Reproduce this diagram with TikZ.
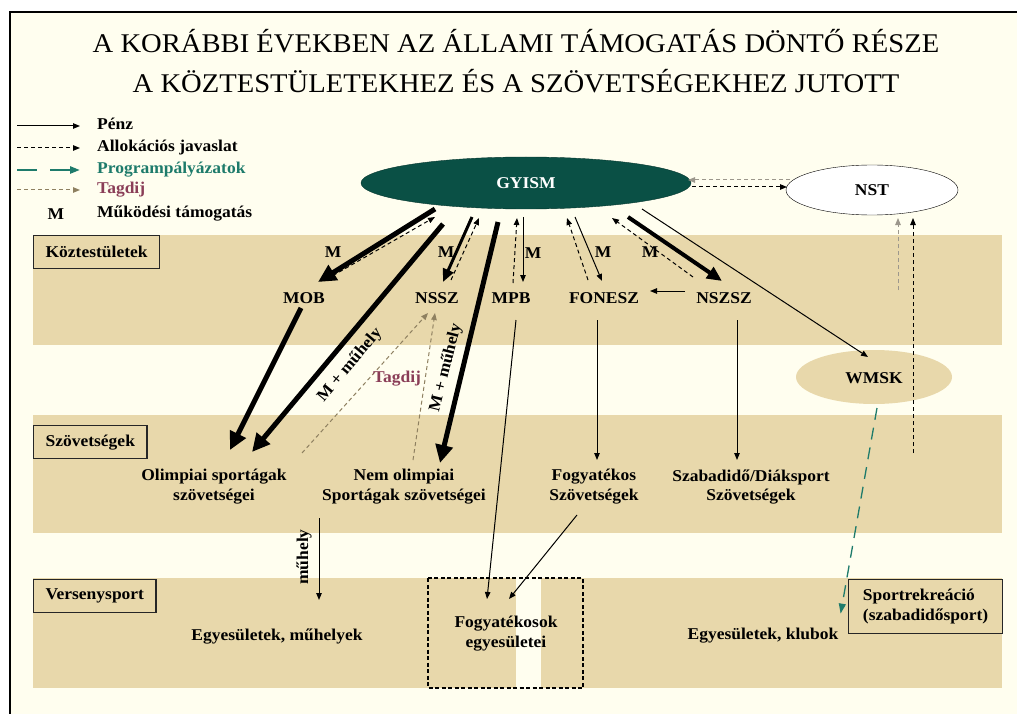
\documentclass[tikz,border=0pt]{standalone}
\usepackage{fontspec}
\setmainfont{Liberation Serif}[FakeStretch=1.06]
\usetikzlibrary{arrows.meta,shapes.geometric}
\definecolor{paper}{HTML}{FFFEEF}
\definecolor{bandTan}{HTML}{E8D8AB}
\definecolor{gyismGreen}{HTML}{0A5045}
\definecolor{progTeal}{HTML}{1E7B6B}
\definecolor{tagdijText}{HTML}{8A3D57}
\definecolor{tagdijLine}{HTML}{8E8060}
\definecolor{nstGray}{HTML}{9C978C}

\tikzset{
  penz/.style={-{Triangle[length=7pt,width=5.5pt]},line width=1pt},
  alloc/.style={penz,dash pattern=on 4pt off 3pt},
  tagdij/.style={alloc,tagdijLine},
  prog/.style={-{Triangle[length=10pt,width=7pt]},progTeal,line width=1.3pt,dash pattern=on 12pt off 8pt},
  progLeg/.style={prog,line width=2.4pt,dash pattern=on 20pt off 13pt},
  heavy/.style={-{Triangle[length=18pt,width=17pt]},line width=5pt},
  semiheavy/.style={-{Triangle[length=15pt,width=13pt]},line width=4pt},
  midheavy/.style={-{Triangle[length=13pt,width=11pt]},line width=3pt},
  body/.style={font=\bfseries\fontsize{16.5}{20}\selectfont,align=center,inner sep=2pt},
  org/.style={body,text height=12pt,text depth=0pt},
  sector/.style={body,draw=black!85,line width=1.2pt,fill=bandTan,minimum height=33pt,inner xsep=12pt},
}

\begin{document}
\begin{tikzpicture}[x=1pt,y=-1pt]
\useasboundingbox (0,0) rectangle (1017,714);
\fill[white] (0,0) rectangle (1017,714);
\fill[paper] (10,12) rectangle (1017,714);
\draw[line width=1.2pt] (10,714) -- (10,12) -- (1017,12);
\fill[bandTan] (33,235) rectangle (1002,345);
\fill[bandTan] (33,415) rectangle (1002,533);
\fill[bandTan] (33,578) rectangle (1002,688);
\fill[paper] (516,578) rectangle (541,688);
\draw[line width=1.2pt,dash pattern=on 4pt off 2.5pt] (428,578) rectangle (583,688);

\node[font=\fontsize{27}{30}\selectfont,anchor=base] (title1) at (516,53) {A KORÁBBI ÉVEKBEN AZ ÁLLAMI TÁMOGATÁS DÖNTŐ RÉSZE};
\node[font=\fontsize{27}{30}\selectfont,anchor=base] (title2) at (516,93) {A KÖZTESTÜLETEKHEZ ÉS A SZÖVETSÉGEKHEZ JUTOTT};

\foreach \y/\sty/\col/\txt [count=\i] in {126/penz/black/Pénz,148/alloc/black/Allokációs javaslat,170/progLeg/progTeal/Programpályázatok,190/tagdij/tagdijText/Tagdij}{
  \node[body,text=\col,anchor=west,text height=11pt,text depth=3pt] (leg\i) at (95,\y) {\txt};
  \draw[\sty] ([xshift=-78pt]leg\i.west) -- ([xshift=-15pt]leg\i.west);
}
\node[body] (legM) at (56,214) {M};
\node[body,anchor=west] (legMtext) at (95,214) {Működési támogatás};

\node[sector,anchor=north west] (koztest) at (33,235) {Köztestületek};
\node[sector,anchor=north west] (szov) at (33,425) {Szövetségek};
\node[sector,anchor=north west] (verseny) at (33,579) {Versenysport};
\node[sector,anchor=north west,align=left,minimum width=154pt,minimum height=54pt] (rekre) at (848,579) {Sportrekreáció\\(szabadidősport)};

\node[org,ellipse,fill=gyismGreen,draw=gyismGreen!70!black,text=white,minimum width=330pt,minimum height=52pt] (gyism) at (526,183) {GYISM};
\node[org,ellipse,draw,fill=white,minimum width=172pt,minimum height=50pt] (nst) at (872,190) {NST};
\node[org,ellipse,fill=bandTan,minimum width=156pt,minimum height=54pt] (wmsk) at (874,377) {WMSK};

\node[org] (mob) at (304,297) {MOB};
\node[org] (nssz) at (437,297) {NSSZ};
\node[org] (mpb) at (511,297) {MPB};
\node[org] (fonesz) at (604,297) {FONESZ};
\node[org] (nszsz) at (724,297) {NSZSZ};

\node[body] (olimp) at (214,487) {Olimpiai sportágak\\szövetségei};
\node[body] (nemolimp) at (404,487) {Nem olimpiai\\Sportágak szövetségei};
\node[body] (fogyszov) at (594,487) {Fogyatékos\\Szövetségek};
\node[body] (szabszov) at (751,487) {Szabadidő/Diáksport\\Szövetségek};

\node[body] (egymuh) at (277,636) {Egyesületek, műhelyek};
\node[body] (fogyegy) at (506,634) {Fogyatékosok\\egyesületei};
\node[body] (egyklub) at (763,636) {Egyesületek, klubok};

\draw[heavy] ([shift={(-91,26)}]gyism.center) -- ([shift={(14,-15)}]mob.center);
\draw[alloc] ([shift={(23,-18)}]mob.center) -- ([shift={(-91,34)}]gyism.center);
\draw[heavy] ([shift={(-83,41)}]gyism.center) -- ([shift={(38,-35)}]olimp.center);
\draw[heavy] ([shift={(-3,11)}]mob.center) -- ([shift={(16,-37)}]olimp.center);
\draw[midheavy] ([shift={(-54,34)}]gyism.center) -- ([shift={(6,-15)}]nssz.center);
\draw[alloc] ([shift={(14,-17)}]nssz.center) -- ([shift={(-47,35)}]gyism.center);
\draw[heavy] ([shift={(-28,39)}]gyism.center) -- ([shift={(36,-24)}]nemolimp.center);
\draw[alloc] ([shift={(2,-14)}]mpb.center) -- ([shift={(-9,35)}]gyism.center);
\draw[penz] ([shift={(-3,34)}]gyism.center) -- ([shift={(12,-15)}]mpb.center);
\draw[penz] ([shift={(49,34)}]gyism.center) -- ([shift={(-2,-16)}]fonesz.center);
\draw[alloc] ([shift={(-16,-17)}]fonesz.center) -- ([shift={(41,35)}]gyism.center);
\draw[semiheavy] ([shift={(102,34)}]gyism.center) -- ([shift={(-2,-16)}]nszsz.center);
\draw[alloc] ([shift={(-31,-20)}]nszsz.center) -- ([shift={(86,35)}]gyism.center);
\draw[penz] ([shift={(-39,-6)}]nszsz.center) -- ([shift={(46,-6)}]fonesz.center);
\draw[penz] ([shift={(116,26)}]gyism.center) -- ([shift={(-6,-20)}]wmsk.center);
\draw[alloc,nstGray] ([shift={(-82,-10)}]nst.center) -- ([shift={(162,-3)}]gyism.center);
\draw[alloc] ([shift={(166,4)}]gyism.center) -- ([shift={(-85,-3)}]nst.center);
\coordinate (tagUp) at (898,290);
\coordinate (allocUp) at (913,453);
\draw[alloc,nstGray] (tagUp) -- ([shift={(26,28)}]nst.center);
\draw[alloc] (allocUp) -- ([shift={(41,28)}]nst.center);
\draw[prog] ([shift={(3,31)}]wmsk.center) -- ([shift={(-85,7)}]rekre.center);
\draw[tagdij] ([shift={(88,-34)}]olimp.center) -- ([shift={(-9,16)}]nssz.center);
\draw[tagdij] ([shift={(9,-27)}]nemolimp.center) -- ([shift={(-2,16)}]nssz.center);
\draw[penz] ([shift={(5,23)}]mpb.center) -- ([shift={(-19,-35)}]fogyegy.center);
\draw[penz] ([shift={(-17,28)}]fogyszov.center) -- ([shift={(3,-35)}]fogyegy.center);
\draw[penz] ([shift={(-7,23)}]fonesz.center) -- ([shift={(3,-27)}]fogyszov.center);
\draw[penz] ([shift={(13,23)}]nszsz.center) -- ([shift={(-14,-27)}]szabszov.center);
\coordinate (muhStart) at (319,518);
\draw[penz] (muhStart) -- ([shift={(42,-36)}]egymuh.center);

\node[body] (mMob) at (333,252) {M};
\node[body] (mNssz) at (446,252) {M};
\node[body] (mMpb) at (533,253) {M};
\node[body] (mFonesz) at (603,252) {M};
\node[body] (mNszsz) at (650,252) {M};
\node[body,rotate=50] (muhOlimp) at (350,365) {M + műhely};
\node[body,rotate=76] (muhNem) at (446,368) {M + műhely};
\node[body,text=tagdijText] (tagLab) at (397,379) {Tagdij};
\node[body,rotate=90] (muhEgy) at (304,557) {műhely};
\end{tikzpicture}
\end{document}
